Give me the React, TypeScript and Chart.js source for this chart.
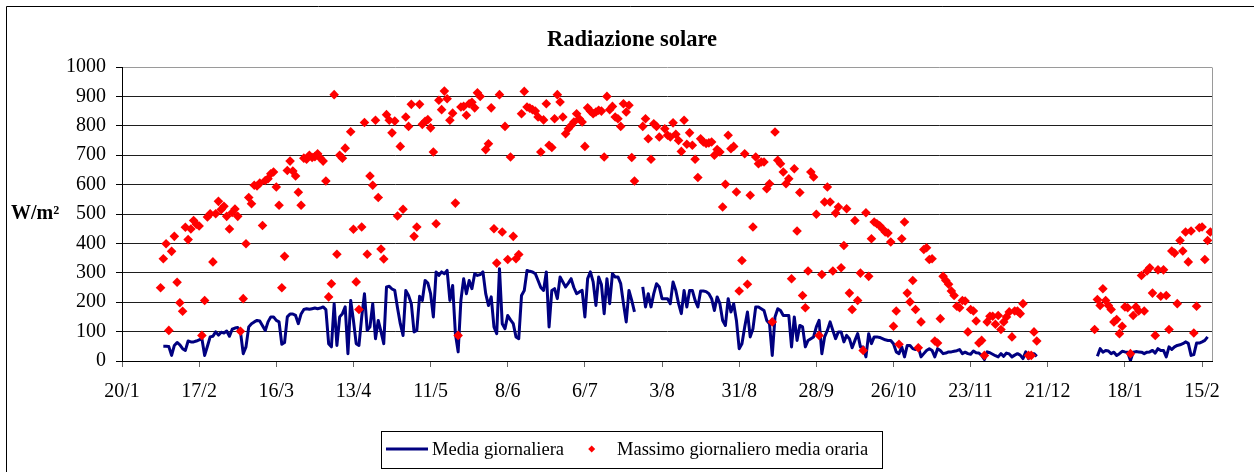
import React, { useEffect, useRef } from "react";
import { Chart, registerables } from "chart.js";

Chart.register(...registerables);

// ---- Text ----
const chartTitle = "Radiazione solare";
const yAxisLabel = "W/m²";
const lineSeriesName = "Media giornaliera";
const pointSeriesName = "Massimo giornaliero media oraria";

// ---- X axis: days counted from 20/1 ----
const tickDays = [0, 28, 56, 84, 112, 140, 168, 196, 224, 252, 280, 308, 336, 364, 392];
const tickLabels = ["20/1", "17/2", "16/3", "13/4", "11/5", "8/6", "6/7", "3/8", "31/8", "28/9", "26/10", "23/11", "21/12", "18/1", "15/2"];
const xMax = 395.6;
const yMin = 0;
const yMax = 1000;
const yStep = 100;

// ---- Media giornaliera (daily mean), W/m2 ----
const mediaStartA = 15;
const mediaA = [
  50, 50, 49, 19, 53, 63, 55, 42, 36, 68,
  65, 65, 68, 72, 76, 19, 50, 82, 84, 99,
  88, 98, 95, 102, 84, 108, 112, 114, 99, 25,
  48, 116, 127, 133, 138, 136, 120, 104, 133, 150,
  150, 138, 133, 57, 63, 150, 160, 160, 155, 127,
  160, 175, 178, 176, 178, 180, 178, 180, 184, 175,
  59, 48, 195, 53, 150, 161, 184, 25, 206, 138,
  59, 53, 150, 229, 104, 116, 195, 76, 138, 100,
  59, 252, 254, 245, 240, 180, 127, 87, 240, 223,
  195, 99, 104, 220, 206, 274, 265, 229, 150, 303,
  291, 303, 297, 308, 206, 257, 93, 31, 206, 280,
  229, 274, 246, 297, 291, 294, 303, 229, 189, 218,
  116, 93, 314, 127, 110, 155, 140, 127, 82, 76,
  223, 240, 308, 305, 303, 297, 274, 250, 240, 303,
  116, 240, 246, 212, 286, 269, 252, 265, 280, 250,
  229, 235, 240, 150, 280, 303, 269, 189, 286, 260,
  161, 280, 195, 297, 286, 286, 263, 195, 133, 240,
  206, 167,
];
const mediaStartB = 189;
const mediaB = [
  252, 184, 229, 184, 229, 263,
  252, 212, 212, 212, 195, 269, 240, 195, 161, 240,
  184, 240, 240, 206, 184, 238, 238, 236, 229, 212,
  172, 218, 195, 138, 121, 212, 167, 195, 138, 42,
  59, 116, 167, 82, 110, 184, 184, 178, 172, 138,
  127, 19, 150, 178, 172, 155, 155, 155, 48, 150,
  70, 121, 116, 48, 70, 76, 82, 116, 138, 25,
  82, 104, 133, 104, 76, 99, 99, 65, 87, 76,
  45, 70, 93, 48, 48, 14, 93, 59, 82, 82,
  80, 76, 72, 70, 70, 59, 31, 25, 48, 14,
  53, 53, 42, 39, 48, 14, 25, 36, 42, 36,
  14, 42, 36, 25, 27, 31, 31, 33, 35, 39,
  25, 30, 25, 23, 34, 28, 27, 19, 5, 31,
  28, 23, 18, 14, 25, 16, 27, 24, 14, 20,
  25, 20, 8, 31, 8, 25, 25, 16,
];
const mediaStartC = 354;
const mediaC = [
  16,
  42, 30, 36, 34, 25, 30, 19, 25, 33, 31,
  30, 2, 30, 32, 31, 30, 25, 30, 31, 36,
  27, 42, 36, 36, 14, 48, 39, 48, 53, 55,
  59, 65, 60, 19, 22, 61, 61, 65, 70, 82,
];

// ---- Massimo giornaliero media oraria (daily max of hourly mean), W/m2 ----
const massimoStartA = 14;
const massimoA = [
  249, 348, 399, 104, 373, 424, 268, 198, 169, 455,
  413, 449, 478, 465, 459, 87, 206, 490, 501, 337,
  501, 543, 515, 526, 492, 449, 505, 517, 492, 101,
  212, 399, 556, 535, 598, 595, 605, 461, 614, 620,
  637, 643, 592, 530, 249, 356, 648, 680, 646, 629,
  574, 530, 690, 686, 700, 692, 695, 705, 690, 680,
  612, 218, 263, 906, 363, 700, 690, 724, null, 780,
  448, 269, 175, 456, 811, 363, 629, 598, 819, 556,
  381, 347, 838, 819, 776, 816, 493, 730, 516, 830,
  798, 873, 424, 456, 873, 805, 815, 821, 793, 711,
  467, 887, 855, 918, 892, 819, 843, 537, 87, 864,
  866, 836, 875, 880, 861, 912, 900, null, 719, 739,
  861, 450, 333, 906, 439, 798, 345, 694, 424, 348,
  362, 841, 917, 864, 860, 855, 850, 830, 711, 820,
  875, 734, 726, 824, 906, 881, 830, 773, 790, 801,
  813, 841, 824, 813, 730, 861, 850, 841, 847, 853,
  850, 694, 900, 855, 866, 830, 824, 798, 875, 847,
  870, 692, 612,
];
const massimoStartB = 189;
const massimoB = [
  798, 824, 756, 686, 807,
  798, 762, null, 790, 768, 762, 810, 771, 750, 713,
  819, 737, 776, 734, 686, 624, 756, 745, 740, 742,
  745, 700, 719, 711, 524, 601, 768, 722, 730, 575,
  238, 342, 705, 261, 564, 456, 694, 671, 677, 677,
  586, 603, 133, 779, 683, 671, 643, 603, 620, 280,
  654, 442, 573, 223, 181, 306, 643, 626, 499, 87,
  294, 541, 592, 541, 306, 503, 524, 317, 393, 518,
  231, 175, 478, 206, 299, 36, 504, 288, 416, 473,
  467, 460, 450, 439, 435, 405, 118, 170, 57, 416,
  473, 231, 201, 274, 175, 45, 133, 379, 385, 345,
  348, 68, 61, 144, 288, 274, 261, 238, 223, 186,
  181, 206, 204, 99, 175, 170, 136, 61, 70, 19,
  133, 152, 152, 125, 155, 107, 133, 150, 167, 82,
  170, 170, 161, 195, null, 19, 19, 99, 68,
];
const massimoStartC = 353;
const massimoC = [
  107,
  209, 189, 246, 206, 189, 175, 133, 141, 93, 118,
  184, 181, 25, 155, 184, 170, 291, 170, 306, 317,
  231, 87, 310, 220, 310, 223, 107, 374, 367, 195,
  410, 374, 439, 337, 442, 95, 186, 453, 456, 345,
  410, 439,
];

type Pt = { x: number; y: number | null };

function toPoints(start: number, vals: (number | null)[]): Pt[] {
  return vals.map((v, i) => ({ x: start + i, y: v }));
}

function joinSegments(segs: Pt[][]): Pt[] {
  const out: Pt[] = [];
  segs.forEach((s, i) => {
    if (i > 0) out.push({ x: s[0].x - 0.5, y: null });
    out.push(...s);
  });
  return out;
}

const NAVY = "#000080";
const RED = "#FF0000";
const SERIF = "'Liberation Serif', 'Times New Roman', serif";

const decorPlugin = {
  id: "decor",
  beforeDraw(chart: any) {
    const ctx = chart.ctx;
    ctx.save();
    ctx.fillStyle = "#ffffff";
    ctx.fillRect(0, 0, chart.width, chart.height);
    ctx.restore();
  },
  afterDatasetsDraw(chart: any) {
    const { ctx, chartArea } = chart;
    ctx.save();
    // plot area border (gray right side)
    ctx.strokeStyle = "#9a9a9a";
    ctx.lineWidth = 1;
    ctx.beginPath();
    ctx.moveTo(Math.round(chartArea.right) + 0.5, Math.round(chartArea.top) + 0.5);
    ctx.lineTo(Math.round(chartArea.right) + 0.5, Math.round(chartArea.bottom));
    ctx.stroke();
    ctx.restore();
  },
  afterDraw(chart: any) {
    const ctx = chart.ctx;
    ctx.save();
    // outer frame (top and left visible)
    ctx.strokeStyle = "#000000";
    ctx.lineWidth = 1;
    ctx.beginPath();
    ctx.moveTo(6.5, chart.height + 5);
    ctx.lineTo(6.5, 6.5);
    ctx.lineTo(chart.width + 5, 6.5);
    ctx.stroke();

    // title
    ctx.fillStyle = "#000000";
    ctx.font = `bold 22.5px ${SERIF}`;
    ctx.textAlign = "center";
    ctx.textBaseline = "middle";
    ctx.fillText(chartTitle, 632, 40);

    // y label
    ctx.font = `bold 20px ${SERIF}`;
    ctx.textAlign = "left";
    ctx.fillText(yAxisLabel, 11, 214);

    // legend box
    ctx.strokeStyle = "#000000";
    ctx.lineWidth = 1;
    ctx.strokeRect(381.5, 431.5, 501, 37);
    ctx.strokeStyle = NAVY;
    ctx.lineWidth = 3;
    ctx.beginPath();
    ctx.moveTo(386, 449);
    ctx.lineTo(428, 449);
    ctx.stroke();
    ctx.fillStyle = "#000000";
    ctx.font = `18.5px ${SERIF}`;
    ctx.textBaseline = "middle";
    ctx.fillText(lineSeriesName, 432, 450);
    ctx.fillStyle = RED;
    ctx.beginPath();
    ctx.moveTo(588.2, 449);
    ctx.lineTo(591.7, 445.5);
    ctx.lineTo(595.2, 449);
    ctx.lineTo(591.7, 452.5);
    ctx.closePath();
    ctx.fill();
    ctx.fillStyle = "#000000";
    ctx.fillText(pointSeriesName, 617, 450);
    ctx.restore();
  },
};

export default function App() {
  const canvasRef = useRef<HTMLCanvasElement | null>(null);

  useEffect(() => {
    document.body.style.margin = "0";
    const canvas = canvasRef.current;
    if (!canvas) return;

    const mediaData = joinSegments([
      toPoints(mediaStartA, mediaA),
      toPoints(mediaStartB, mediaB),
      toPoints(mediaStartC, mediaC),
    ]);
    const massimoData = [
      ...toPoints(massimoStartA, massimoA),
      ...toPoints(massimoStartB, massimoB),
      ...toPoints(massimoStartC, massimoC),
    ].filter((p) => p.y !== null);

    const chart = new Chart(canvas, {
      type: "scatter",
      data: {
        datasets: [
          {
            label: pointSeriesName,
            data: massimoData as any,
            pointStyle: "rectRot",
            pointRadius: 4.8,
            pointBackgroundColor: RED,
            pointBorderWidth: 0,
            borderColor: RED,
            backgroundColor: RED,
            showLine: false,
            order: 0,
          },
          {
            label: lineSeriesName,
            data: mediaData as any,
            showLine: true,
            borderColor: NAVY,
            backgroundColor: NAVY,
            borderWidth: 3,
            pointRadius: 0,
            tension: 0,
            spanGaps: false,
            borderJoinStyle: "round",
            order: 1,
          } as any,
        ],
      },
      options: {
        responsive: false,
        animation: false,
        events: [],
        layout: { padding: { left: 0, right: 42, top: 67, bottom: 71 } },
        plugins: {
          legend: { display: false },
          title: { display: false },
          tooltip: { enabled: false },
        },
        scales: {
          x: {
            type: "linear",
            min: 0,
            max: xMax,
            afterBuildTicks: (scale: any) => {
              scale.ticks = tickDays.map((v) => ({ value: v }));
            },
            afterFit: (scale: any) => {
              scale.height = 40;
            },
            ticks: {
              autoSkip: false,
              maxRotation: 0,
              padding: 13,
              color: "#000000",
              font: { family: SERIF, size: 20 },
              callback: (v: any) => {
                const i = tickDays.indexOf(Number(v));
                return i >= 0 ? tickLabels[i] : "";
              },
            },
            grid: {
              drawOnChartArea: false,
              drawTicks: true,
              tickLength: 6,
              tickColor: "#666666",
            },
            border: { display: true, color: "#000000", width: 1 },
          },
          y: {
            type: "linear",
            min: yMin,
            max: yMax,
            afterFit: (scale: any) => {
              scale.width = 122;
            },
            ticks: {
              stepSize: yStep,
              padding: 10,
              color: "#000000",
              font: { family: SERIF, size: 20 },
              callback: (v: any) => String(v),
            },
            grid: {
              color: (c: any) => (c.tick && c.tick.value === yMax ? "#9a9a9a" : "#1e1e1e"),
              tickColor: "#000000",
              tickLength: 6,
              lineWidth: 1,
            },
            border: { display: true, color: "#000000", width: 1 },
          },
        },
      },
      plugins: [decorPlugin],
    });
    return () => chart.destroy();
  }, []);

  return (
    <div style={{ width: 1254, height: 472, position: "relative", background: "#fff" }}>
      <canvas ref={canvasRef} width={1254} height={472} style={{ display: "block" }} />
    </div>
  );
}
